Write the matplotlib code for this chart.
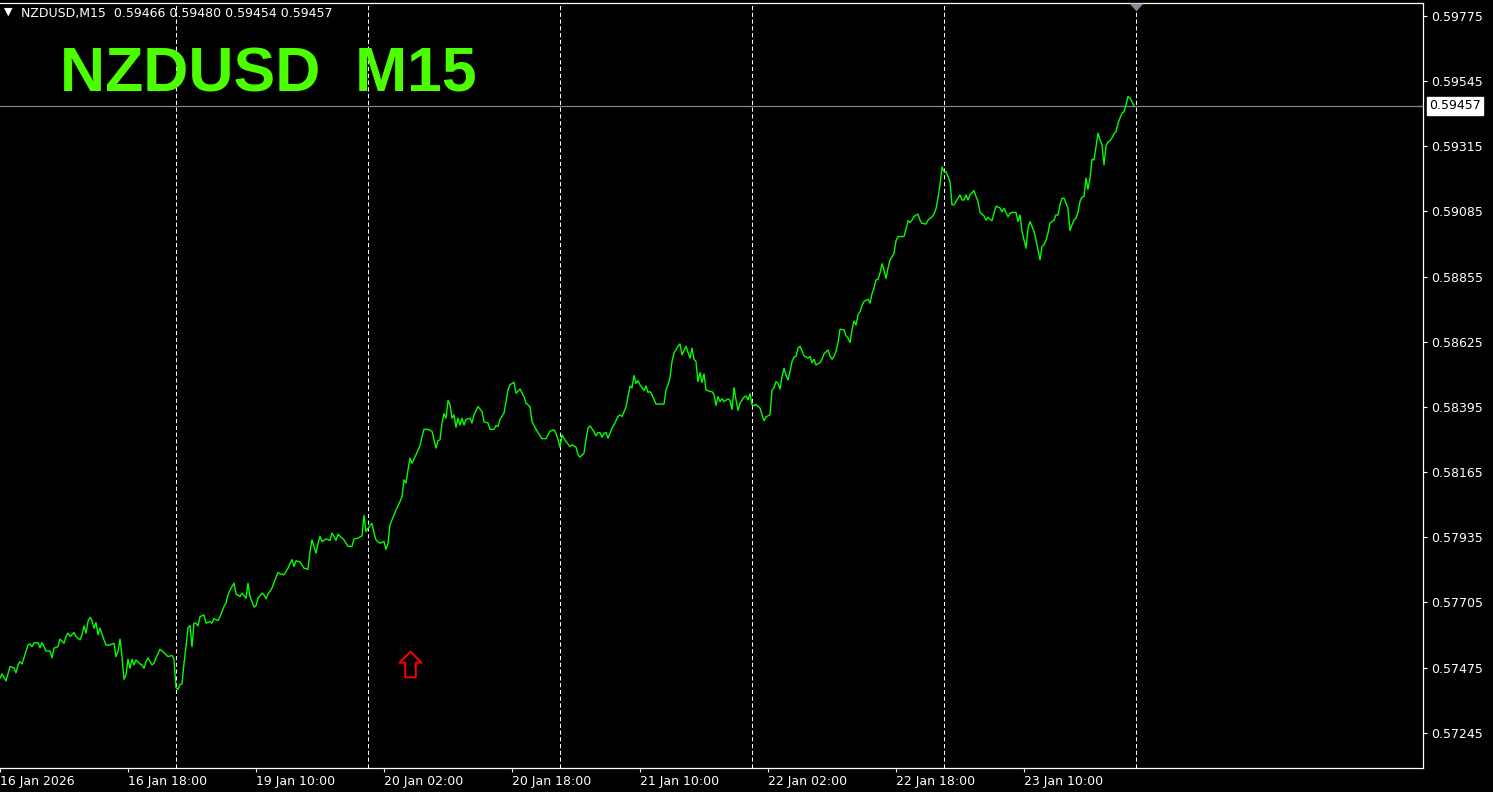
import matplotlib.pyplot as plt
from matplotlib.path import Path
import matplotlib.transforms as mtransforms

# M15 bars counted from 16 Jan 2026 02:00, close prices
bars = [0, 1, 3, 5, 7, 8, 9, 10, 11, 12, 14, 15, 16, 17, 19, 20, 21, 22, 23, 25,
        26, 27, 29, 30, 32, 33, 34, 35, 37, 38, 40, 41, 42, 43, 44, 45, 46, 47, 48, 49,
        50, 52, 53, 55, 57, 58, 59, 60, 61, 62, 63, 64, 65, 66, 67, 68, 70, 71, 72, 73,
        74, 76, 77, 78, 80, 82, 84, 86, 87, 88, 89, 90, 91, 92, 93, 94, 95, 96, 97, 98,
        99, 100, 102, 103, 105, 106, 107, 109, 110, 112, 113, 114, 115, 117, 118, 120, 121, 123, 124, 125,
        127, 128, 129, 131, 132, 133, 134, 136, 137, 139, 140, 142, 144, 145, 146, 147, 148, 150, 152, 154,
        155, 156, 157, 158, 159, 160, 161, 163, 165, 166, 167, 168, 169, 172, 174, 176, 177, 179, 181, 182,
        183, 184, 186, 187, 188, 190, 192, 193, 194, 195, 197, 198, 200, 201, 202, 203, 204, 205, 206, 208,
        210, 211, 212, 214, 216, 217, 218, 219, 220, 221, 222, 223, 224, 225, 226, 227, 228, 229, 230, 231,
        232, 233, 235, 236, 237, 239, 241, 242, 244, 245, 247, 248, 249, 250, 252, 253, 254, 255, 257, 258,
        260, 262, 263, 265, 266, 268, 271, 273, 275, 277, 278, 279, 280, 281, 283, 285, 286, 288, 289, 290,
        292, 293, 294, 295, 297, 298, 299, 300, 301, 302, 303, 304, 306, 307, 309, 310, 311, 313, 314, 315,
        316, 317, 318, 319, 320, 322, 323, 324, 325, 326, 328, 332, 333, 334, 335, 336, 337, 339, 340, 341,
        343, 344, 345, 346, 347, 348, 349, 350, 351, 352, 353, 355, 356, 357, 358, 359, 360, 361, 362, 364,
        365, 366, 367, 368, 369, 370, 372, 373, 374, 375, 376, 377, 378, 380, 381, 382, 383, 385, 386, 387,
        388, 389, 390, 391, 392, 393, 394, 395, 396, 397, 398, 399, 400, 401, 402, 404, 405, 406, 407, 408,
        410, 411, 412, 414, 415, 416, 417, 418, 419, 420, 422, 423, 424, 425, 426, 427, 428, 429, 430, 431,
        432, 434, 435, 436, 437, 438, 439, 440, 441, 442, 443, 444, 445, 446, 447, 448, 449, 452, 453, 454,
        455, 456, 457, 458, 459, 460, 461, 463, 464, 466, 467, 468, 469, 470, 471, 472, 473, 474, 475, 476,
        477, 479, 480, 481, 482, 483, 484, 485, 487, 488, 489, 490, 492, 493, 494, 495, 496, 497, 498, 500,
        501, 502, 504, 505, 506, 508, 509, 510, 511, 513, 514, 515, 516, 517, 518, 520, 521, 522, 523, 524,
        525, 527, 528, 529, 530, 531, 532, 533, 534, 535, 536, 537, 538, 539, 540, 541, 542, 543, 544, 545,
        546, 547, 548, 549, 550, 551, 552, 553, 554, 555, 556, 557, 558, 559, 560, 561, 562, 563, 564, 565,
        566, 567]
closes = [0.57438, 0.57453, 0.57428, 0.57479, 0.57474, 0.57457, 0.57485, 0.57496, 0.57488, 0.57510,
          0.57555, 0.57559, 0.57549, 0.57562, 0.57563, 0.57545, 0.57563, 0.57549, 0.57534, 0.57534,
          0.57510, 0.57544, 0.57549, 0.57576, 0.57561, 0.57585, 0.57597, 0.57585, 0.57599, 0.57585,
          0.57573, 0.57591, 0.57622, 0.57597, 0.57638, 0.57653, 0.57641, 0.57614, 0.57634, 0.57591,
          0.57614, 0.57573, 0.57555, 0.57555, 0.57561, 0.57514, 0.57532, 0.57576, 0.57514, 0.57434,
          0.57450, 0.57505, 0.57473, 0.57505, 0.57485, 0.57502, 0.57488, 0.57485, 0.57473, 0.57496,
          0.57509, 0.57485, 0.57490, 0.57509, 0.57540, 0.57528, 0.57514, 0.57518, 0.57505, 0.57404,
          0.57398, 0.57416, 0.57418, 0.57490, 0.57549, 0.57616, 0.57623, 0.57549, 0.57632, 0.57632,
          0.57622, 0.57655, 0.57661, 0.57632, 0.57638, 0.57632, 0.57648, 0.57641, 0.57655, 0.57691,
          0.57703, 0.57732, 0.57749, 0.57773, 0.57735, 0.57726, 0.57738, 0.57720, 0.57773, 0.57726,
          0.57689, 0.57693, 0.57720, 0.57738, 0.57732, 0.57718, 0.57734, 0.57756, 0.57775, 0.57811,
          0.57806, 0.57803, 0.57826, 0.57842, 0.57856, 0.57832, 0.57852, 0.57848, 0.57826, 0.57822,
          0.57884, 0.57926, 0.57902, 0.57879, 0.57914, 0.57938, 0.57920, 0.57929, 0.57924, 0.57950,
          0.57938, 0.57924, 0.57946, 0.57926, 0.57903, 0.57903, 0.57929, 0.57932, 0.57940, 0.58012,
          0.57955, 0.57967, 0.57984, 0.57950, 0.57926, 0.57914, 0.57920, 0.57892, 0.57914, 0.57979,
          0.58014, 0.58031, 0.58061, 0.58079, 0.58138, 0.58126, 0.58173, 0.58214, 0.58196, 0.58226,
          0.58258, 0.58290, 0.58316, 0.58316, 0.58309, 0.58279, 0.58250, 0.58276, 0.58279, 0.58338,
          0.58371, 0.58355, 0.58418, 0.58403, 0.58355, 0.58367, 0.58323, 0.58355, 0.58331, 0.58355,
          0.58331, 0.58351, 0.58355, 0.58338, 0.58367, 0.58396, 0.58379, 0.58343, 0.58338, 0.58316,
          0.58316, 0.58329, 0.58326, 0.58351, 0.58373, 0.58414, 0.58455, 0.58473, 0.58482, 0.58443,
          0.58458, 0.58431, 0.58408, 0.58396, 0.58343, 0.58316, 0.58283, 0.58283, 0.58309, 0.58314,
          0.58302, 0.58279, 0.58253, 0.58296, 0.58273, 0.58255, 0.58261, 0.58253, 0.58226, 0.58218,
          0.58232, 0.58280, 0.58320, 0.58328, 0.58308, 0.58293, 0.58304, 0.58304, 0.58288, 0.58302,
          0.58304, 0.58285, 0.58320, 0.58332, 0.58361, 0.58367, 0.58361, 0.58394, 0.58431, 0.58468,
          0.58462, 0.58506, 0.58478, 0.58488, 0.58473, 0.58453, 0.58469, 0.58446, 0.58449, 0.58438,
          0.58405, 0.58405, 0.58455, 0.58473, 0.58498, 0.58555, 0.58585, 0.58609, 0.58617, 0.58579,
          0.58609, 0.58587, 0.58567, 0.58602, 0.58563, 0.58555, 0.58484, 0.58516, 0.58481, 0.58511,
          0.58455, 0.58449, 0.58449, 0.58438, 0.58400, 0.58431, 0.58414, 0.58424, 0.58414, 0.58423,
          0.58418, 0.58386, 0.58463, 0.58420, 0.58383, 0.58408, 0.58429, 0.58434, 0.58420, 0.58441,
          0.58403, 0.58400, 0.58403, 0.58391, 0.58367, 0.58346, 0.58360, 0.58367, 0.58455, 0.58462,
          0.58484, 0.58478, 0.58458, 0.58501, 0.58531, 0.58507, 0.58490, 0.58520, 0.58555, 0.58571,
          0.58573, 0.58602, 0.58609, 0.58593, 0.58575, 0.58567, 0.58573, 0.58551, 0.58563, 0.58543,
          0.58551, 0.58563, 0.58582, 0.58596, 0.58575, 0.58563, 0.58573, 0.58591, 0.58621, 0.58669,
          0.58667, 0.58646, 0.58638, 0.58622, 0.58667, 0.58698, 0.58684, 0.58720, 0.58731, 0.58752,
          0.58767, 0.58775, 0.58761, 0.58794, 0.58814, 0.58843, 0.58845, 0.58867, 0.58900, 0.58878,
          0.58848, 0.58884, 0.58914, 0.58925, 0.58937, 0.58981, 0.58996, 0.58996, 0.59022, 0.59052,
          0.59046, 0.59054, 0.59066, 0.59072, 0.59075, 0.59054, 0.59043, 0.59040, 0.59054, 0.59065,
          0.59076, 0.59094, 0.59133, 0.59178, 0.59241, 0.59225, 0.59225, 0.59207, 0.59190, 0.59108,
          0.59108, 0.59131, 0.59143, 0.59125, 0.59125, 0.59143, 0.59125, 0.59143, 0.59158, 0.59137,
          0.59120, 0.59081, 0.59069, 0.59054, 0.59064, 0.59057, 0.59052, 0.59078, 0.59103, 0.59097,
          0.59083, 0.59095, 0.59066, 0.59078, 0.59081, 0.59081, 0.59049, 0.59072, 0.59014, 0.58955,
          0.59025, 0.59049, 0.59031, 0.59014, 0.58984, 0.58914, 0.58961, 0.58967, 0.58984, 0.59008,
          0.59043, 0.59054, 0.59072, 0.59072, 0.59108, 0.59131, 0.59131, 0.59114, 0.59095, 0.59017,
          0.59037, 0.59054, 0.59061, 0.59081, 0.59120, 0.59135, 0.59137, 0.59202, 0.59163, 0.59202,
          0.59269, 0.59266, 0.59312, 0.59361, 0.59337, 0.59319, 0.59249, 0.59316, 0.59330, 0.59334,
          0.59344, 0.59358, 0.59366, 0.59396, 0.59413, 0.59431, 0.59436, 0.59460, 0.59490, 0.59484,
          0.59472, 0.59457]

# day separators (bar where each new day starts)
day_starts = [88, 184, 280, 376, 472, 568]

# bottom axis labels
date_ticks = [0, 64, 128, 192, 256, 320, 384, 448, 512]
date_labels = ['16 Jan 2026', '16 Jan 18:00', '19 Jan 10:00', '20 Jan 02:00', '20 Jan 18:00',
               '21 Jan 10:00', '22 Jan 02:00', '22 Jan 18:00', '23 Jan 10:00']

# right axis labels
price_ticks = [0.59775, 0.59545, 0.59315, 0.59085, 0.58855, 0.58625,
               0.58395, 0.58165, 0.57935, 0.57705, 0.57475, 0.57245]

symbol = 'NZDUSD'
period = 'M15'
ohlc = [0.59466, 0.59480, 0.59454, 0.59457]
last_price = 0.59457
arrow_bar = 205
arrow_price = 0.57487
shift_bar = 568

plt.rcParams['font.family'] = ['DejaVu Sans']

fig = plt.figure(figsize=(14.93, 7.92), dpi=100, facecolor='black')
ax = fig.add_axes([0, 23.7 / 792, 1423 / 1493, 765.6 / 792])
ax.set_facecolor('black')

# period separators
for d in day_starts:
    ax.axvline(d, color='white', lw=0.75, linestyle=(0, (4, 2.5)), zorder=1)

# price line
ax.plot(bars, closes, color='#00ff00', lw=1.0, zorder=3)

# current price line and its label
ax.axhline(last_price, color='#778899', lw=0.9, zorder=2)
blend = mtransforms.blended_transform_factory(ax.transAxes, ax.transData)
ax.text(1.0 + 6 / 1423, last_price, f'{last_price:.5f}', transform=blend,
        ha='left', va='center', color='black', fontsize=9,
        bbox=dict(boxstyle='square,pad=0.2', fc='white', ec='white'), clip_on=False)

# up arrow object
arrow_verts = [(0, 0.5), (0.43, 0.07), (0.207, 0.07), (0.207, -0.5),
               (-0.207, -0.5), (-0.207, 0.07), (-0.43, 0.07), (0, 0.5)]
arrow_marker = Path(arrow_verts, [Path.MOVETO] + [Path.LINETO] * 6 + [Path.CLOSEPOLY])
ax.plot([arrow_bar], [arrow_price], marker=arrow_marker, markersize=18.5,
        markerfacecolor='none', markeredgecolor='#ff0000', markeredgewidth=1.4,
        linestyle='none', zorder=4)

# chart shift marker
shift_tr = mtransforms.blended_transform_factory(ax.transData, ax.transAxes)
tri = Path([(-0.5, 0.28), (0.5, 0.28), (0, -0.28), (-0.5, 0.28)],
           [Path.MOVETO, Path.LINETO, Path.LINETO, Path.CLOSEPOLY])
ax.plot([shift_bar], [0.9944], marker=tri, markersize=10, color='#7f8c99',
        markeredgewidth=0, transform=shift_tr, clip_on=False, zorder=5)

ax.set_xlim(0, 711.5)
ax.set_ylim(0.57120, 0.59821)

ax.yaxis.tick_right()
ax.set_yticks(price_ticks)
ax.set_yticklabels([f'{p:.5f}' for p in price_ticks])
ax.set_xticks(date_ticks)
ax.set_xticklabels(date_labels)
for lbl in ax.get_xticklabels():
    lbl.set_horizontalalignment('left')

ax.tick_params(axis='y', colors='white', length=3, width=0.8, pad=3, labelsize=9)
ax.tick_params(axis='x', colors='white', length=3, width=0.8, pad=2, labelsize=9)

for side in ['top', 'right', 'bottom']:
    ax.spines[side].set_color('white')
    ax.spines[side].set_linewidth(0.9)
ax.spines['left'].set_visible(False)

# header and big title
fig.text(4 / 1493, 1 - 12 / 792, '\u25bc', color='white', fontsize=8, va='center', ha='left')
fig.text(21 / 1493, 1 - 13 / 792,
         f'{symbol},{period}  ' + ' '.join(f'{v:.5f}' for v in ohlc),
         color='white', fontsize=9, va='center', ha='left')
fig.text(60 / 1493, 1 - 92 / 792, f'{symbol}  {period}', color='#4cff00',
         fontsize=45, fontweight='bold', family='Liberation Sans',
         va='baseline', ha='left')

fig.savefig('out.png', dpi=100, facecolor='black')
